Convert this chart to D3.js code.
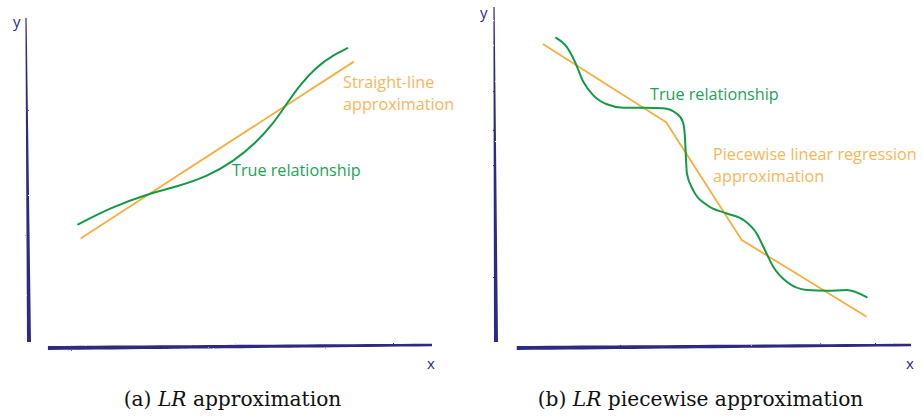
<!DOCTYPE html>
<html>
<head>
<meta charset="utf-8">
<script src="https://cdn.jsdelivr.net/npm/d3@7/dist/d3.min.js"></script>
<style>
  html, body { margin: 0; padding: 0; background: #fff; }
  svg { display: block; }
  .lbl { font-family: "Open Sans", sans-serif; }
  .cap { font-family: "DejaVu Serif", serif; }
</style>
</head>
<body>
<svg id="chart" width="923" height="416"></svg>
<script>
// ---------- Data (abstract units, 0..10 on both axes) ----------
// Panel (a): LR approximation
const trueA_x = [1.22, 2.01, 2.92, 3.67, 4.41, 5.07, 5.65, 6.06, 6.39, 6.72, 7.14, 7.55, 7.90];
const trueA_y = [3.71, 4.21, 4.63, 4.86, 5.16, 5.62, 6.22, 6.78, 7.38, 7.96, 8.52, 8.87, 9.08];
const lineA_x = [1.28, 8.06];
const lineA_y = [3.28, 8.67];

// Panel (b): LR piecewise approximation
const trueB_x = [1.45, 1.70, 1.90, 2.10, 2.34, 2.67, 3.07, 3.55, 4.03, 4.35, 4.50, 4.55, 4.57, 4.60, 4.75, 5.08, 5.56, 5.96, 6.28, 6.48, 6.68, 7.00, 7.49, 7.97, 8.45, 8.93];
const trueB_y = [9.09, 8.83, 8.39, 7.80, 7.40, 7.13, 7.03, 7.03, 7.01, 6.86, 6.62, 6.22, 5.73, 5.09, 4.60, 4.16, 3.91, 3.72, 3.32, 2.83, 2.34, 1.90, 1.65, 1.63, 1.65, 1.44];
const pieceB_x = [1.13, 4.10, 5.92, 8.93];
const pieceB_y = [8.91, 6.60, 3.13, 0.86];

// Labels
const axisLabels = ["x", "y"];
const labelsA = { truth: ["True relationship"], approx: ["Straight-line", "approximation"] };
const labelsB = { truth: ["True relationship"], approx: ["Piecewise linear regression", "approximation"] };
const captionA = ["(a) ", "LR", " approximation"];
const captionB = ["(b) ", "LR", " piecewise approximation"];

// ---------- Styles ----------
const AXIS = "#2e2a84";
const GREEN = "#129a47";
const GREEN_TXT = "#23a257";
const ORANGE = "#f5ae3f";
const ORANGE_TXT = "#f7b65a";

const svg = d3.select("#chart");

function zip(xs, ys) { return xs.map((x, i) => [x, ys[i]]); }

function brush(g, x0, y0, x1, y1, w0, w1) {
  const dx = x1 - x0, dy = y1 - y0, L = Math.hypot(dx, dy);
  const nx = -dy / L, ny = dx / L;
  const n = 24, left = [], right = [];
  for (let i = 0; i <= n; i++) {
    const t = i / n;
    const w = (w0 + (w1 - w0) * t) / 2;
    const px = x0 + dx * t, py = y0 + dy * t;
    left.push([px + nx * w, py + ny * w]);
    right.push([px - nx * w, py - ny * w]);
  }
  g.append("path")
    .attr("d", d3.line()(left.concat(right.reverse())) + "Z")
    .attr("fill", AXIS)
    .attr("filter", "url(#rough)");
}

const defs = svg.append("defs");
const f = defs.append("filter").attr("id", "rough").attr("x", "-5%").attr("y", "-5%").attr("width", "110%").attr("height", "110%");
f.append("feTurbulence").attr("type", "fractalNoise").attr("baseFrequency", "0.6").attr("numOctaves", 2).attr("result", "n");
f.append("feDisplacementMap").attr("in", "SourceGraphic").attr("in2", "n").attr("scale", 1.6);

function panel(cfg) {
  const g = svg.append("g");
  const x = d3.scaleLinear().domain([0, 10]).range(cfg.xr);
  const y = d3.scaleLinear().domain([0, 10]).range(cfg.yr);

  // hand-drawn axes
  brush(g, x(0) + cfg.yTilt, y(10), x(0), y(0) - 4, 1.2, 4);
  brush(g, x(cfg.xStart), y(0) + 2, x(10), y(0) - 1, 4, 2.6);

  g.append("text").attr("class", "lbl").attr("x", x(0) - 16).attr("y", y(10) + cfg.yLblDy)
    .attr("font-size", 15).attr("fill", AXIS).text(axisLabels[1]);
  g.append("text").attr("class", "lbl").attr("x", x(10) - 5).attr("y", y(0) + 23)
    .attr("font-size", 15).attr("fill", AXIS).text(axisLabels[0]);

  const curve = d3.line().x(d => x(d[0])).y(d => y(d[1])).curve(cfg.curve);
  const straight = d3.line().x(d => x(d[0])).y(d => y(d[1]));

  g.append("path").attr("d", straight(cfg.approx)).attr("fill", "none")
    .attr("stroke", ORANGE).attr("stroke-width", 1.8).attr("stroke-linejoin", "round");
  g.append("path").attr("d", curve(cfg.truth)).attr("fill", "none")
    .attr("stroke", GREEN).attr("stroke-width", 2).attr("stroke-linecap", "round");

  const tt = g.append("text").attr("class", "lbl").attr("font-size", 16.2).attr("fill", GREEN_TXT)
    .attr("x", cfg.truthPos[0]).attr("y", cfg.truthPos[1]);
  cfg.labels.truth.forEach((s, i) => tt.append("tspan").attr("x", cfg.truthPos[0]).attr("dy", i ? 22 : 0).text(s));
  const at = g.append("text").attr("class", "lbl").attr("font-size", 16.2).attr("fill", ORANGE_TXT)
    .attr("x", cfg.approxPos[0]).attr("y", cfg.approxPos[1]);
  cfg.labels.approx.forEach((s, i) => at.append("tspan").attr("x", cfg.approxPos[0]).attr("dy", i ? 22 : 0).text(s));

  const cap = g.append("text").attr("class", "cap").attr("font-size", 20.2).attr("fill", "#111")
    .attr("x", cfg.capX).attr("y", 406).attr("text-anchor", "middle");
  cfg.caption.forEach((s, i) => cap.append("tspan").attr("font-style", i === 1 ? "italic" : "normal")
    .attr("xml:space", "preserve").text(s));
}

panel({
  xr: [29, 432], yr: [346, 18], yTilt: -3, xStart: 0.47, yLblDy: 9,
  truth: zip(trueA_x, trueA_y), approx: zip(lineA_x, lineA_y), curve: d3.curveBasis,
  labels: labelsA, truthPos: [232, 176], approxPos: [343, 88],
  caption: captionA, capX: 232.5
});
panel({
  xr: [496, 911], yr: [346, 7], yTilt: -2, xStart: 0.5, yLblDy: 11,
  truth: zip(trueB_x, trueB_y), approx: zip(pieceB_x, pieceB_y), curve: d3.curveMonotoneX,
  labels: labelsB, truthPos: [650, 100], approxPos: [713, 160],
  caption: captionB, capX: 700.5
});
</script>
</body>
</html>
